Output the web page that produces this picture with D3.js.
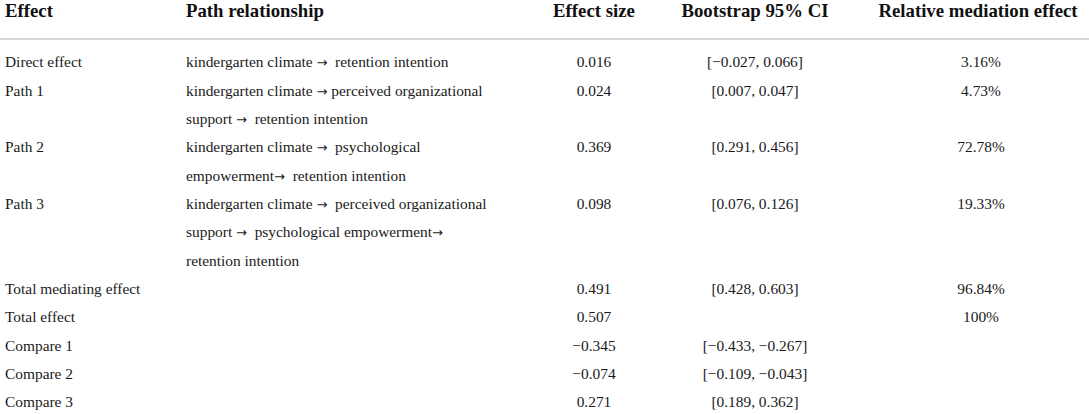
<!DOCTYPE html>
<html>
<head>
<meta charset="utf-8">
<script src="https://cdn.jsdelivr.net/npm/d3@7"></script>
<style>
  body { margin: 0; background: #fff; }
  svg { display: block; }
  text { font-family: "Liberation Serif", "DejaVu Serif", serif; fill: #1a1a1a; white-space: pre; }
  .head { font-weight: bold; font-size: 18.8px; fill: #111; }
  .cell { font-size: 15.4px; }
  .arrow { font-family: "DejaVu Sans", sans-serif; font-size: 13px; }
</style>
</head>
<body>
<svg id="chart"></svg>
<script>
/* DATA */
const headers = ["Effect", "Path relationship", "Effect size", "Bootstrap 95% CI", "Relative mediation effect"];
const effects = ["Direct effect", "Path 1", "Path 2", "Path 3", "Total mediating effect",
  "Total effect", "Compare 1", "Compare 2", "Compare 3"];
const paths = [
  ["kindergarten climate \u2192  retention intention"],
  ["kindergarten climate \u2192 perceived organizational", "support \u2192  retention intention"],
  ["kindergarten climate \u2192  psychological", "empowerment\u2192  retention intention"],
  ["kindergarten climate \u2192  perceived organizational", "support \u2192  psychological empowerment\u2192", "retention intention"],
  [], [], [], [], []
];
const effectSizes = [0.016, 0.024, 0.369, 0.098, 0.491, 0.507, -0.345, -0.074, 0.271];
const ciLow  = [-0.027, 0.007, 0.291, 0.076, 0.428, null, -0.433, -0.109, 0.189];
const ciHigh = [0.066, 0.047, 0.456, 0.126, 0.603, null, -0.267, -0.043, 0.362];
const relEffects = [3.16, 4.73, 72.78, 19.33, 96.84, 100, null, null, null];

/* CONSTANTS */
const width = 1089,
  height = 414;

const svg = d3.select("#chart").attr("width", width).attr("height", height);

// each row starts on the line after the previous row's last path line
let line = 0;
const rows = effects.map((e, i) => {
  const r = {
    effect: e,
    lines: paths[i],
    size: effectSizes[i],
    lo: ciLow[i],
    hi: ciHigh[i],
    rel: relEffects[i],
    start: line
  };
  line += Math.max(1, paths[i].length);
  return r;
});

// text line index -> baseline
const yScale = d3.scaleLinear()
  .domain([0, 12])
  .range([67.3, 67.3 + 28.33 * 12]);

// column anchors
const xScale = d3.scaleOrdinal()
  .domain(headers)
  .range([5, 186, 594, 755, 980]);
const anchor = d3.scaleOrdinal()
  .domain(headers)
  .range(["start", "start", "middle", "middle", "middle"]);

const f3 = d3.format(".3f");
const fRel = d3.format("~f");

// header
svg.selectAll("text.head")
  .data(headers)
  .join("text")
  .attr("class", "head")
  .attr("x", d => d === headers[4] ? 978 : xScale(d))
  .attr("y", 17)
  .attr("text-anchor", d => anchor(d))
  .text(d => d);

svg.append("line")
  .attr("x1", 0)
  .attr("x2", width)
  .attr("y1", 39)
  .attr("y2", 39)
  .attr("stroke", "#c9c9c9")
  .attr("stroke-width", 1.5);

// body rows
const rowG = svg.selectAll("g.row")
  .data(rows)
  .join("g")
  .attr("class", "row");

rowG.append("text")
  .attr("class", "cell")
  .attr("x", xScale(headers[0]))
  .attr("y", d => yScale(d.start))
  .text(d => d.effect);

// path lines: arrows set in a tspan so they get a wider glyph
rowG.selectAll("text.path")
  .data(d => d.lines.map((t, j) => ({ t, k: d.start + j })))
  .join("text")
  .attr("class", "cell path")
  .attr("x", xScale(headers[1]))
  .attr("y", d => yScale(d.k))
  .selectAll("tspan")
  .data(d => d.t.split(/(\u2192)/).filter(s => s !== ""))
  .join("tspan")
  .attr("class", s => s === "\u2192" ? "arrow" : null)
  .text(s => s);

rowG.append("text")
  .attr("class", "cell")
  .attr("x", xScale(headers[2]))
  .attr("y", d => yScale(d.start))
  .attr("text-anchor", "middle")
  .text(d => f3(d.size));

rowG.filter(d => d.lo != null)
  .append("text")
  .attr("class", "cell")
  .attr("x", xScale(headers[3]))
  .attr("y", d => yScale(d.start))
  .attr("text-anchor", "middle")
  .text(d => `[${f3(d.lo)}, ${f3(d.hi)}]`);

rowG.filter(d => d.rel != null)
  .append("text")
  .attr("class", "cell")
  .attr("x", 981)
  .attr("y", d => yScale(d.start))
  .attr("text-anchor", "middle")
  .text(d => fRel(d.rel) + "%");
</script>
</body>
</html>
